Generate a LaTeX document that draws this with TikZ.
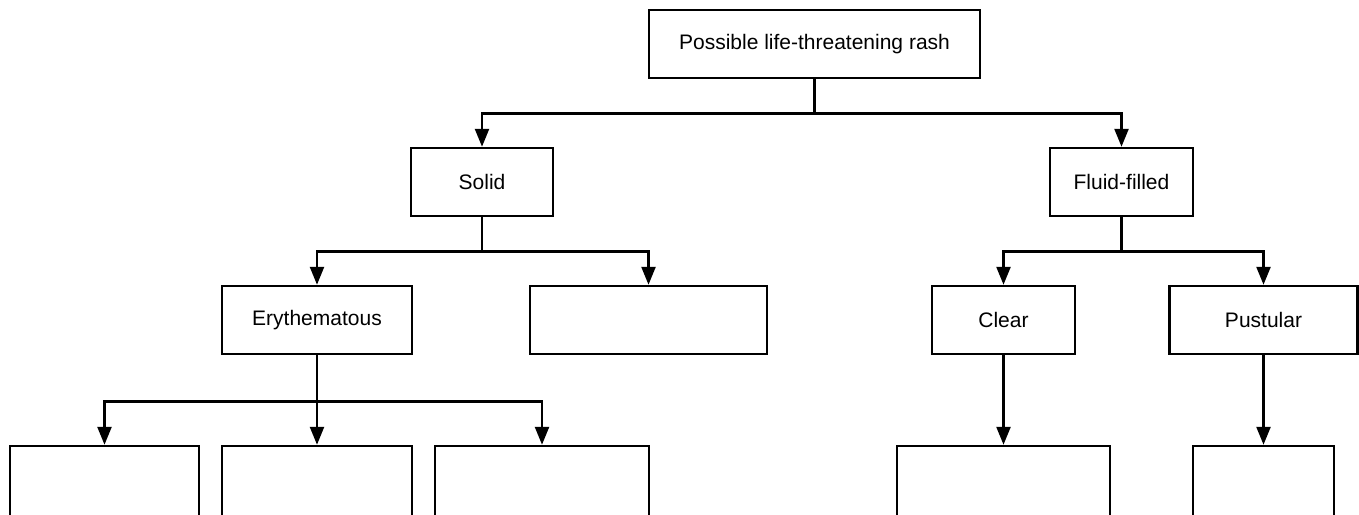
\documentclass[tikz,border=0pt]{standalone}
\usepackage{fontspec}
\setmainfont{Liberation Sans}
\usetikzlibrary{arrows.meta}
\begin{document}
\begin{tikzpicture}[x=1pt,y=-1pt,
  box/.style={draw=black,line width=2.5pt,rectangle,minimum height=68pt,inner sep=0pt,
    font=\fontsize{21}{25}\selectfont,fill=white},
  lowbox/.style={box,minimum height=110pt},
  arr/.style={draw=black,line width=2.5pt,-{Triangle[width=14pt,length=18pt]}},
  ln/.style={draw=black,line width=2.5pt}]
\useasboundingbox (0,0) rectangle (1359,514);
\clip (0,0) rectangle (1359,514);
\node[box,minimum width=331pt] (top) at (814.5,44) {Possible life-threatening rash};
\node[box,minimum width=142pt] (solid) at (482,182) {Solid};
\node[box,minimum width=143pt] (fluid) at (1121.5,182) {Fluid-filled};
\node[box,minimum width=190pt] (ery) at (317,320) {Erythematous};
\node[box,minimum width=237pt] (empty) at (648.5,320) {};
\node[box,minimum width=143pt] (clear) at (1003.5,320) {Clear};
\node[box,minimum width=188pt] (pust) at (1263.5,320) {Pustular};
\node[lowbox,minimum width=189pt] (b1) at (104.5,501) {};
\node[lowbox,minimum width=190pt] (b2) at (317,501) {};
\node[lowbox,minimum width=214pt] (b3) at (542,501) {};
\node[lowbox,minimum width=213pt] (b4) at (1003.5,501) {};
\node[lowbox,minimum width=141pt] (b5) at (1263.5,501) {};
% connectors
\coordinate (j1) at ([yshift=-34pt]top.south);
\draw[ln] (top.south) -- (j1);
\draw[arr] (j1) -| (solid.north);
\draw[arr] (j1) -| (fluid.north);
\coordinate (j2) at ([yshift=-34pt]solid.south);
\draw[ln] (solid.south) -- (j2);
\draw[arr] (j2) -| (ery.north);
\draw[arr] (j2) -| (empty.north);
\coordinate (j3) at ([yshift=-34pt]fluid.south);
\draw[ln] (fluid.south) -- (j3);
\draw[arr] (j3) -| (clear.north);
\draw[arr] (j3) -| (pust.north);
\coordinate (j4) at ([yshift=-46pt]ery.south);
\draw[arr] (ery.south) -- (b2.north);
\draw[arr] (j4) -| (b1.north);
\draw[arr] (j4) -| (b3.north);
\draw[arr] (clear.south) -- (b4.north);
\draw[arr] (pust.south) -- (b5.north);
\end{tikzpicture}
\end{document}
